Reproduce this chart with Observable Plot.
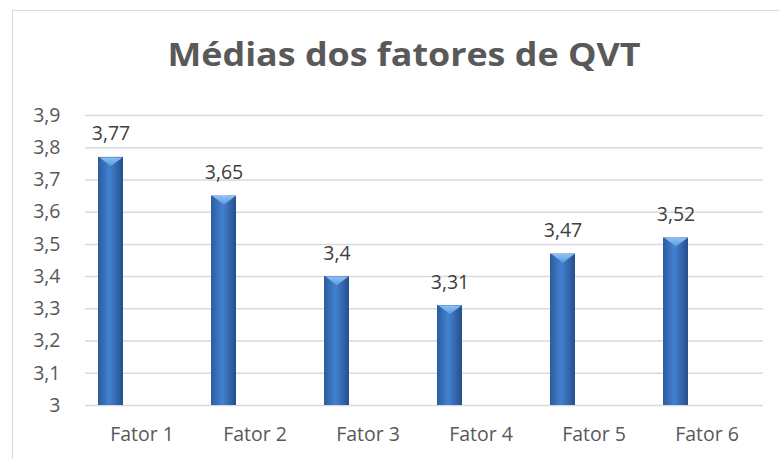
<!DOCTYPE html>
<html>
<head>
<meta charset="utf-8">
<script src="https://cdn.jsdelivr.net/npm/d3@7"></script>
<script src="https://cdn.jsdelivr.net/npm/@observablehq/plot@0.6"></script>
<style>
  html, body { margin: 0; padding: 0; background: #fff; width: 779px; height: 459px; overflow: hidden; }
  #frame { position: absolute; left: 12px; top: 10px; width: 800px; height: 480px;
           border-top: 1.5px solid #d9d9d9; border-left: 1.5px solid #d9d9d9; box-sizing: border-box; }
  #title { position: absolute; left: 0; top: 38px; width: 808px; text-align: center;
           font-family: "Open Sans", sans-serif; font-weight: bold; font-size: 32px; line-height: 32px; color: #595959;
           transform: scaleX(1.12); transform-origin: 404px 0; }
  #chart { position: absolute; left: 0; top: 90px; }
</style>
</head>
<body>
<div id="frame"></div>
<div id="title">Médias dos fatores de QVT</div>
<div id="chart"></div>
<script>
const categories = ["Fator 1", "Fator 2", "Fator 3", "Fator 4", "Fator 5", "Fator 6"];
const values = [3.77, 3.65, 3.4, 3.31, 3.47, 3.52];
const yTicks = [3, 3.1, 3.2, 3.3, 3.4, 3.5, 3.6, 3.7, 3.8, 3.9];
const series = ["Média", ""];

const data = categories.map((c, i) => ({cat: c, series: series[0], value: values[i]}));
const fmt = v => String(v).replace(".", ",");
const baseline = yTicks[0];

const bevel = {
  draw(context, size) {
    const h = Math.sqrt(size) / 2;
    context.moveTo(-h, 0);
    context.lineTo(h, 0);
    context.lineTo(0, h * 0.75);
    context.closePath();
  }
};

const chart = Plot.plot({
  width: 779,
  height: 369,
  marginTop: 25,
  marginBottom: 54,
  marginLeft: 83,
  marginRight: 14,
  style: {fontFamily: "'Open Sans', sans-serif", fontSize: "19.5px", color: "#595959", background: "transparent", overflow: "visible"},
  facet: {data, x: "cat"},
  fx: {domain: categories, padding: 0, axis: "bottom", tickSize: 0, tickPadding: 22, label: null},
  x: {domain: series, paddingInner: 0.583, paddingOuter: 0.204, axis: null},
  y: {domain: [3, 3.9], ticks: yTicks, tickFormat: fmt, tickSize: 0, tickPadding: 25, label: null},
  marks: [
    Plot.ruleY(yTicks, {stroke: "#d9d9d9", strokeWidth: 1.5}),
    Plot.barY(data, {x: "series", y1: baseline, y2: "value", fill: "url(#barGrad)"}),
    Plot.dot(data, {x: "series", y: "value", symbol: bevel, r: 13, fill: "url(#bevelGrad)", stroke: "none"}),
    Plot.text(data, {x: "series", y: "value", text: d => fmt(d.value), dy: -17, lineAnchor: "bottom", fill: "#404040"})
  ]
});

const defs = d3.select(chart).insert("defs", ":first-child");
const g = defs.append("linearGradient").attr("id", "barGrad").attr("x1", "0").attr("x2", "1").attr("y1", "0").attr("y2", "0");
g.append("stop").attr("offset", "0").attr("stop-color", "#2b5c9f");
g.append("stop").attr("offset", "0.45").attr("stop-color", "#4381d0");
g.append("stop").attr("offset", "1").attr("stop-color", "#264f8c");
const b = defs.append("linearGradient").attr("id", "bevelGrad").attr("x1", "0").attr("x2", "0").attr("y1", "0").attr("y2", "1");
b.append("stop").attr("offset", "0").attr("stop-color", "#8cc0f2");
b.append("stop").attr("offset", "1").attr("stop-color", "#5b9be2");

document.getElementById("chart").appendChild(chart);
</script>
</body>
</html>
